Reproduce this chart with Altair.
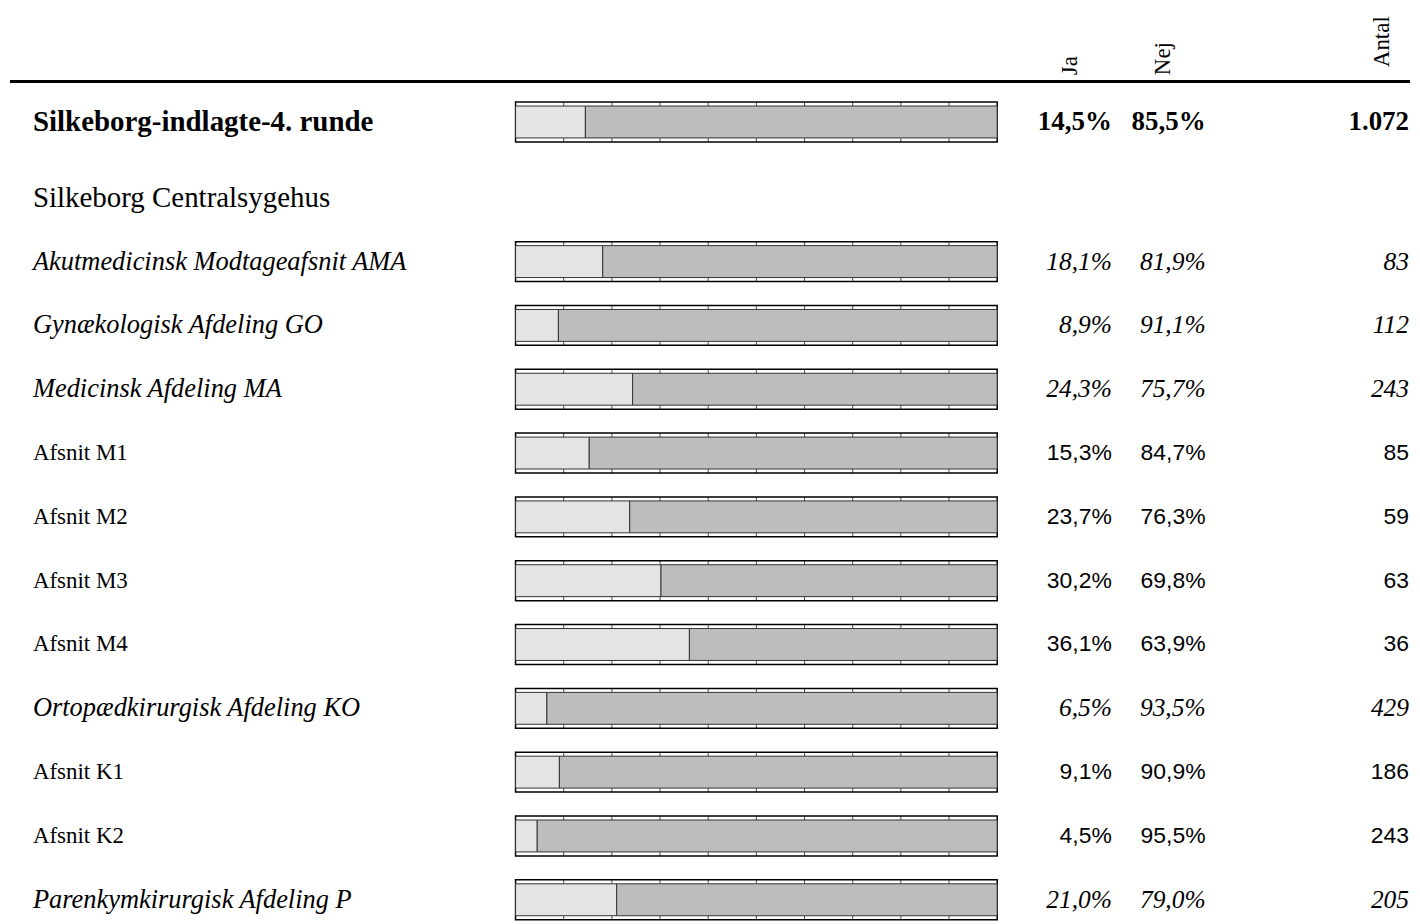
import altair as alt
import pandas as pd

# ---------------- data ----------------
labels = [
    "Silkeborg-indlagte-4. runde",
    "Silkeborg Centralsygehus",
    "Akutmedicinsk Modtageafsnit AMA",
    "Gynækologisk Afdeling GO",
    "Medicinsk Afdeling MA",
    "Afsnit M1",
    "Afsnit M2",
    "Afsnit M3",
    "Afsnit M4",
    "Ortopædkirurgisk Afdeling KO",
    "Afsnit K1",
    "Afsnit K2",
    "Parenkymkirurgisk Afdeling P",
]
levels = ["total", "section", "dept", "dept", "dept", "unit", "unit", "unit",
          "unit", "dept", "unit", "unit", "dept"]
ja = [14.5, None, 18.1, 8.9, 24.3, 15.3, 23.7, 30.2, 36.1, 6.5, 9.1, 4.5, 21.0]
nej = [85.5, None, 81.9, 91.1, 75.7, 84.7, 76.3, 69.8, 63.9, 93.5, 90.9, 95.5, 79.0]
antal = [1072, None, 83, 112, 243, 85, 59, 63, 36, 429, 186, 243, 205]
answers = ["Ja", "Nej"]
answer_colors = ["#E4E4E4", "#BDBDBD"]
tick_values = [10, 20, 30, 40, 50, 60, 70, 80, 90]
headers = ["Ja", "Nej", "Antal"]

# ---------------- tables ----------------
rows = pd.DataFrame({"label": labels, "level": levels, "ja": ja, "nej": nej, "antal": antal})
seg = pd.concat([
    pd.DataFrame({"label": labels, "level": levels, "answer": "Ja", "pct": ja, "ord": 0}),
    pd.DataFrame({"label": labels, "level": levels, "answer": "Nej", "pct": nej, "ord": 1}),
]).dropna(subset=["pct"])
tk = pd.DataFrame([{"label": l, "level": lv, "tick": t}
                   for l, lv, a in zip(labels, levels, ja) if a is not None
                   for t in tick_values])

W = 1404
SERIF = "Liberation Serif"
SANS = "Liberation Sans"


def xscale():
    return alt.Scale(domain=[0, 100], range=[507, 990], nice=False, zero=False)


def block(sub_labels, height):
    r = rows[rows.label.isin(sub_labels)]
    s = seg[seg.label.isin(sub_labels)]
    t = tk[tk.label.isin(sub_labels)]
    y = alt.Y("label:N", sort=sub_labels, axis=None,
              scale=alt.Scale(domain=sub_labels, paddingInner=0, paddingOuter=0))
    barrows = r.dropna(subset=["ja"])

    frame = alt.Chart(barrows).transform_calculate(lo="0", hi="100").mark_bar(
        size=40, fill="white", stroke="black", strokeWidth=1.5).encode(
        x=alt.X("lo:Q", scale=xscale(), axis=None), x2="hi:Q", y=y)
    ticks = alt.Chart(t).mark_tick(size=40, thickness=1, color="black").encode(
        x=alt.X("tick:Q", scale=xscale(), axis=None), y=y)
    bars = alt.Chart(s).mark_bar(size=32, stroke="#333333", strokeWidth=1).encode(
        x=alt.X("pct:Q", stack="zero", scale=xscale(), axis=None),
        y=y,
        color=alt.Color("answer:N", scale=alt.Scale(domain=answers, range=answer_colors),
                        legend=None),
        order=alt.Order("ord:Q"),
    )

    base = alt.Chart(r).transform_calculate(
        ja_t="datum.ja == null ? '' : replace(format(datum.ja / 100, '.1%'), '.', ',')",
        nej_t="datum.nej == null ? '' : replace(format(datum.nej / 100, '.1%'), '.', ',')",
        n_t="datum.antal == null ? '' : replace(format(datum.antal, ','), ',', '.')",
    )

    styles = {
        "total": dict(lab=dict(font=SERIF, fontSize=29, fontWeight="bold"),
                      num=dict(font=SERIF, fontSize=27, fontWeight="bold")),
        "section": dict(lab=dict(font=SERIF, fontSize=29), num=None),
        "dept": dict(lab=dict(font=SERIF, fontSize=26.5, fontStyle="italic"),
                     num=dict(font=SERIF, fontSize=25.5, fontStyle="italic")),
        "unit": dict(lab=dict(font=SERIF, fontSize=23),
                     num=dict(font=SANS, fontSize=23)),
    }
    layers = [frame, ticks, bars]
    present = set(r.level)
    for lv, st in styles.items():
        if lv not in present:
            continue
        b = base.transform_filter(alt.datum.level == lv)
        layers.append(b.mark_text(align="left", baseline="middle", color="black",
                                  **st["lab"]).encode(x=alt.value(23), y=y, text="label:N"))
        if st["num"] is not None:
            for field, xv in (("ja_t", 1105), ("nej_t", 1199), ("n_t", 1403)):
                layers.append(b.mark_text(align="right", baseline="middle", color="black",
                                          **st["num"]).encode(x=alt.value(xv), y=y,
                                                              text=f"{field}:N"))
    return alt.layer(*layers).properties(width=W, height=height)


# header chart
hdr = pd.DataFrame({"header": headers})
hx = {"Ja": (1070, 66), "Nej": (1163, 66), "Antal": (1383, 58)}
hlayers = [alt.Chart(hdr).mark_rule(color="black", strokeWidth=3).encode(
    x=alt.value(0), x2=alt.value(W), y=alt.value(72.5))]
for h in headers:
    xv, yv = hx[h]
    hlayers.append(alt.Chart(hdr).transform_filter(alt.datum.header == h).mark_text(
        angle=270, align="left", baseline="alphabetic", font=SERIF, fontSize=23,
        color="black").encode(x=alt.value(xv), y=alt.value(yv), text="header:N"))
header = alt.layer(*hlayers).properties(width=W, height=69)

top = block(labels[:1], 62)
body = block(labels[1:], 768)

chart = alt.vconcat(header, top, body, spacing=13, bounds="flush").properties(
    padding=0).configure_view(stroke=None)

chart.save("out.html", embed_options={"renderer": "svg", "actions": False})
